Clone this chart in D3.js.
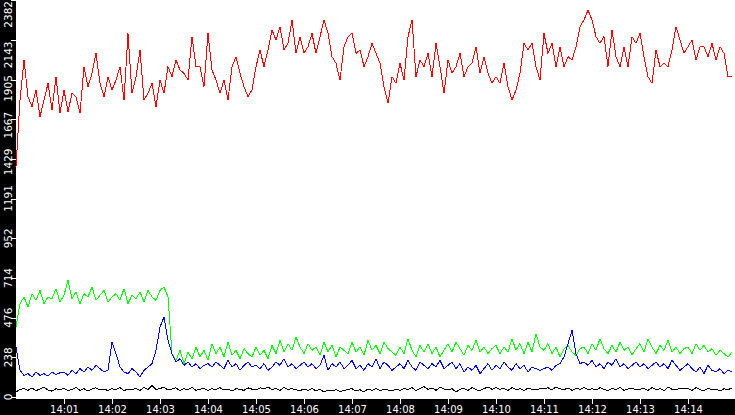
<!DOCTYPE html>
<html><head><meta charset="utf-8">
<script src="https://cdn.jsdelivr.net/npm/d3@7/dist/d3.min.js"></script>
<style>body{margin:0;background:#fff}svg{display:block}</style>
</head><body>
<script>
const yTicks=[0,238,476,714,952,1191,1429,1667,1905,2143,2382];
const xTickLabels=["14:01","14:02","14:03","14:04","14:05","14:06","14:07","14:08","14:09","14:10","14:11","14:12","14:13","14:14"];
const stepSeconds=5;
const red=[1382,1782,2022,1802,1742,1842,1682,1782,1882,1722,1922,1702,1842,1712,1822,1802,1702,1982,1862,1942,2062,1882,1802,1922,1842,1902,1982,1782,2182,1822,1922,2082,1782,1822,1882,1742,1902,1822,1982,1922,2022,1962,1942,1902,2162,1982,1982,1862,2182,1962,1902,1822,1902,1782,1982,2042,1942,1862,1802,
1842,1982,2082,1982,2082,2202,2142,2222,2082,2122,2262,2062,2162,2062,2102,2182,2062,2162,2262,2182,2042,2002,1902,2102,2162,2182,2062,2082,1982,2042,2122,2062,2002,1862,1762,1922,1882,2002,1902,2162,2262,1922,2022,1982,2062,1922,2122,1982,1822,2022,1942,1982,2062,1922,1982,2002,2102,1942,2042,1942,1882,
1922,1882,2002,1862,1782,1842,1942,2122,2082,2122,1982,1902,2182,2062,2122,1982,2102,1982,2042,2022,2102,2222,2262,2322,2262,2162,2122,2162,1982,2202,2042,1982,2102,1982,2162,2122,2182,2042,1922,1882,2082,1982,2002,1982,2082,2222,2142,2062,2102,2142,2022,2102,2102,2042,2122,2022,2102,2062,1922,1922];
const green=[420,560,600,540,620,580,640,560,600,590,650,570,
610,700,590,630,560,620,600,660,580,610,640,570,
600,620,580,650,560,610,590,630,570,640,600,580,
640,660,600,260,220,280,200,270,230,300,240,280,
220,320,260,300,240,330,250,280,230,290,260,240,
300,250,280,230,310,260,340,270,320,280,360,300,
260,320,280,300,250,330,270,310,240,300,280,260,
330,270,300,250,340,280,310,260,330,290,270,250,
300,260,350,280,240,310,270,320,260,300,240,280,
320,270,330,290,250,310,280,340,270,300,260,290,
310,260,300,270,350,280,320,260,330,270,380,300,
280,320,260,300,240,290,310,270,250,290,300,260,
320,280,350,290,260,310,270,330,280,300,250,290,
320,270,350,300,260,310,280,340,270,300,260,290,
300,260,320,280,310,270,290,250,280,260,240,270];
const blue=[300,160,130,140,120,150,130,140,125,150,135,145,
150,130,160,140,170,150,180,160,190,170,150,160,
330,260,180,150,140,170,150,120,160,180,200,280,
420,480,340,260,210,230,190,210,180,200,170,190,
200,180,210,190,170,220,180,200,160,190,210,180,
190,170,200,160,180,210,190,230,180,200,170,190,
210,180,200,170,190,250,160,200,180,210,170,190,
220,170,190,160,200,180,230,170,210,190,160,180,
200,170,220,180,160,210,190,170,200,180,220,170,
190,210,170,200,150,180,160,190,140,170,200,160,
190,170,210,180,160,200,170,190,150,180,170,160,
170,180,160,190,200,240,320,400,260,200,210,190,
220,180,200,170,210,190,230,180,200,170,190,210,
180,200,170,190,210,180,200,170,220,190,160,180,
200,170,150,180,140,190,160,150,170,140,160,150];
const black=[30,45,50,40,55,38,48,60,42,35,50,44,
52,38,46,58,40,50,36,48,55,42,47,39,
50,44,56,38,48,42,52,40,58,46,70,45,
50,60,42,48,55,38,50,44,58,40,46,52,
38,50,44,56,42,48,36,50,45,40,55,47,
42,55,48,60,45,52,40,58,46,50,44,38,
48,40,52,36,46,30,42,38,44,32,40,45,
50,36,44,30,48,40,52,38,46,42,36,48,
40,52,44,56,38,50,62,46,54,40,58,48,
44,50,30,46,52,40,56,44,38,50,60,46,
58,46,52,40,56,44,50,38,54,46,42,50,
48,56,42,60,50,44,54,40,52,46,58,44,
50,42,56,46,38,52,44,58,40,48,54,42,
46,52,40,56,44,50,38,60,46,42,54,48,
50,40,56,44,38,52,42,48,36,50,44,54];

const W=735,H=415,L=16,B=397;
const svg=d3.select("body").append("svg").attr("width",W).attr("height",H);
const x=d3.scaleLinear().domain([0,180*stepSeconds]).range([L,L+48*15]);
const y=d3.scaleLinear().domain([0,2382]).range([B,0]);
svg.append("rect").attr("x",0).attr("y",0).attr("width",L).attr("height",H).attr("fill","#000");
svg.append("rect").attr("x",0).attr("y",399).attr("width",W).attr("height",16).attr("fill","#000");
const line=d3.line().x((d,i)=>x(i*stepSeconds)).y(d=>y(d));
const g=svg.append("g").attr("shape-rendering","crispEdges");
[[red,"#ff0000"],[green,"#00ff00"],[blue,"#0000ff"],[black,"#000000"]].forEach(([s,c])=>{
  g.append("path").datum(s).attr("d",line).attr("fill","none").attr("stroke",c).attr("stroke-width",1);
});
// y axis
const ya=svg.append("g");
const n=yTicks.length;
yTicks.forEach((t,i)=>{
  const yy=Math.round(y(t))+0.5;
  ya.append("line").attr("x1",11).attr("x2",16).attr("y1",yy).attr("y2",yy).attr("stroke","#fff");
  const last=i===n-1;
  // upper labels shift downward so they don't collide with the top label
  const shift=i>=n-2?15:(i>=n-5?(i-(n-6))*3:0);
  ya.append("text").attr("transform",`translate(12,${last?1:y(t)+shift}) rotate(-90)`)
    .attr("text-anchor",last?"end":"middle").attr("fill","#fff")
    .attr("font-family","DejaVu Sans").attr("font-size",10.5).text(t);
});
// x axis
const xa=svg.append("g");
xTickLabels.forEach((lab,i)=>{
  const xx=Math.round(x((i+1)*60))+0.5;
  xa.append("line").attr("x1",xx).attr("x2",xx).attr("y1",399).attr("y2",404).attr("stroke","#fff");
  xa.append("text").attr("x",xx).attr("y",413).attr("text-anchor","middle").attr("fill","#fff")
    .attr("font-family","DejaVu Sans").attr("font-size",10).text(lab);
});
</script>
</body></html>
